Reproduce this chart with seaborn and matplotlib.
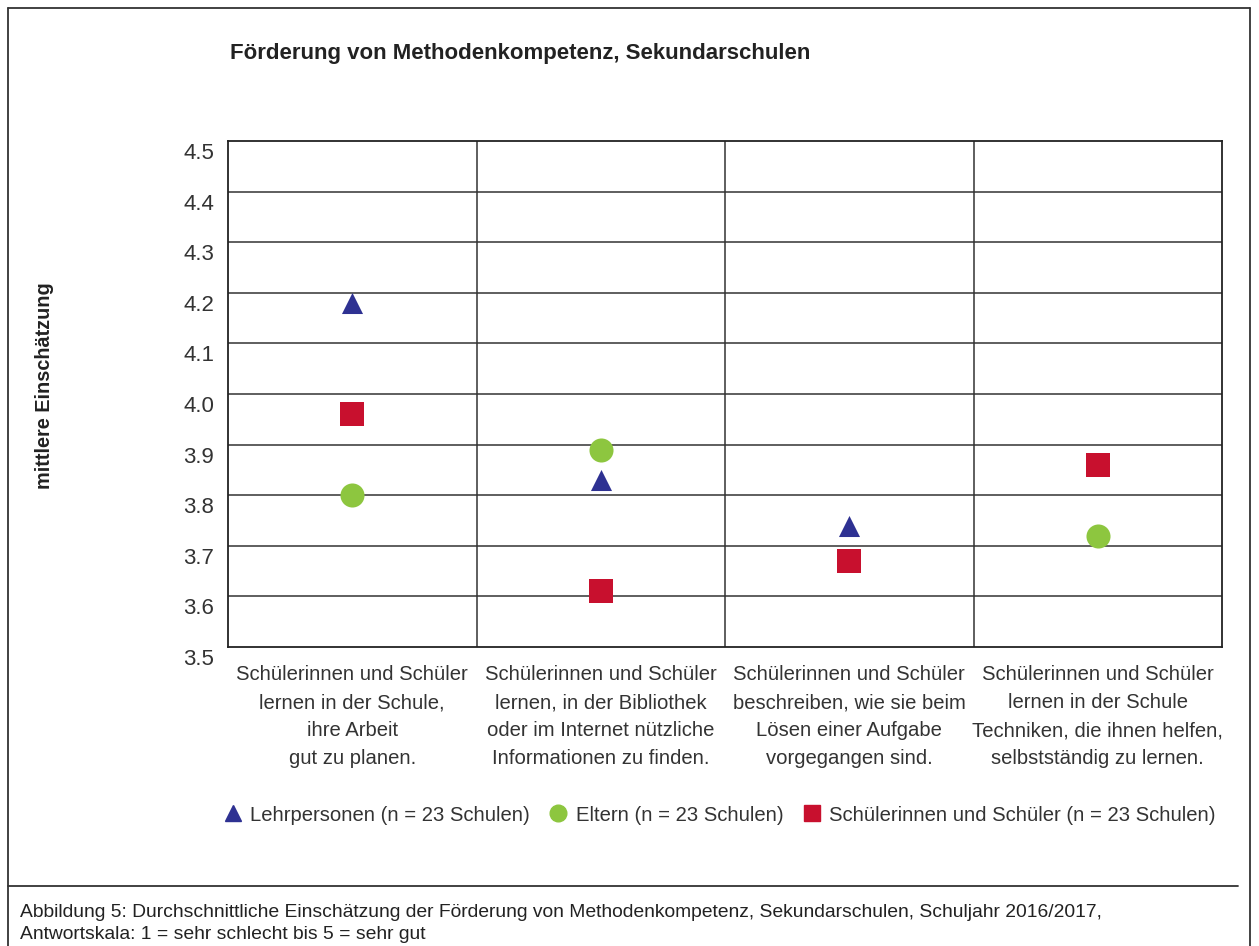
import numpy as np
import pandas as pd
import matplotlib.pyplot as plt
import matplotlib.transforms as mtransforms
import seaborn as sns
from matplotlib.lines import Line2D

# data
categories = [
    "Schülerinnen und Schüler\nlernen in der Schule,\nihre Arbeit\ngut zu planen.",
    "Schülerinnen und Schüler\nlernen, in der Bibliothek\noder im Internet nützliche\nInformationen zu finden.",
    "Schülerinnen und Schüler\nbeschreiben, wie sie beim\nLösen einer Aufgabe\nvorgegangen sind.",
    "Schülerinnen und Schüler\nlernen in der Schule\nTechniken, die ihnen helfen,\nselbstständig zu lernen.",
]
lehrpersonen = [4.18, 3.83, 3.74, np.nan]
eltern = [3.80, 3.89, np.nan, 3.72]
schueler = [3.96, 3.61, 3.67, 3.86]

series_names = ["Lehrpersonen (n = 23 Schulen)",
                "Eltern (n = 23 Schulen)",
                "Schülerinnen und Schüler (n = 23 Schulen)"]
colors = ["#2e3192", "#8dc63f", "#c8102e"]
markers = ["^", "o", "s"]
sizes = [230, 300, 290]

yticks = [3.5, 3.6, 3.7, 3.8, 3.9, 4.0, 4.1, 4.2, 4.3, 4.4, 4.5]

sns.set_style("white")
plt.rcParams['font.family'] = ['Liberation Sans', 'DejaVu Sans']

fig = plt.figure(figsize=(12.59, 9.46), dpi=100)
ax = fig.add_axes([228 / 1259, 1 - 647 / 946, 994 / 1259, 506 / 946])

xpos = np.arange(len(categories))
for vals, name, col, mk, sz in zip([lehrpersonen, eltern, schueler], series_names, colors, markers, sizes):
    df = pd.DataFrame({'x': xpos, 'y': vals}).dropna()
    sns.scatterplot(data=df, x='x', y='y', ax=ax, color=col, marker=mk, s=sz,
                    linewidth=0, zorder=3, legend=False)

# grid
for yv in yticks[1:-1]:
    ax.axhline(yv, color='#333333', lw=1.1, zorder=1)
for xv in [0.5, 1.5, 2.5]:
    ax.axvline(xv, color='#333333', lw=1.1, zorder=1)

ax.set_xlim(-0.5, 3.5)
ax.set_ylim(3.5, 4.5)
ax.set_yticks(yticks)
ax.set_yticklabels([f"{v:.1f}" for v in yticks], fontsize=16, color='#333333')
ax.set_xticks(xpos)
ax.set_xticklabels(categories, fontsize=14.6, color='#333333', linespacing=1.6)
ax.tick_params(axis='both', length=0)
ax.tick_params(axis='y', pad=10)
ax.tick_params(axis='x', pad=13)
# y tick labels sit a little below their grid line in the reference
shift = mtransforms.ScaledTranslation(0, -10 / 100, fig.dpi_scale_trans)
for lab in ax.get_yticklabels():
    lab.set_transform(lab.get_transform() + shift)
ax.set_xlabel("")
ax.set_ylabel("")
for sp in ax.spines.values():
    sp.set_color('#222222')
    sp.set_linewidth(1.3)

fig.text(45 / 1259, 1 - 386 / 946, "mittlere Einschätzung", rotation=90,
         fontsize=14.3, fontweight='bold', ha='center', va='center', color='#222222')
fig.text(230 / 1259, 1 - 53 / 946, "Förderung von Methodenkompetenz, Sekundarschulen",
         fontsize=16, fontweight='bold', ha='left', va='center', color='#222222')

handles = [Line2D([], [], linestyle='none', marker=mk, color=col, markersize=ms)
           for mk, col, ms in zip(markers, colors, [12, 12, 11])]
fig.legend(handles, series_names, loc='center', bbox_to_anchor=(719 / 1259, 1 - 815 / 946),
           ncol=3, frameon=False, fontsize=14.6, handletextpad=0.35, columnspacing=0.9,
           handlelength=1.0, labelcolor='#333333')

# outer frame and footer
frame_kw = dict(color='#333333', lw=1.3, transform=fig.transFigure)
fig.add_artist(Line2D([8 / 1259, 1250 / 1259], [1 - 8 / 946, 1 - 8 / 946], **frame_kw))
fig.add_artist(Line2D([8 / 1259, 8 / 1259], [0, 1 - 8 / 946], **frame_kw))
fig.add_artist(Line2D([1250 / 1259, 1250 / 1259], [0, 1 - 8 / 946], **frame_kw))
fig.add_artist(Line2D([8 / 1259, 1238 / 1259], [1 - 886 / 946, 1 - 886 / 946], **frame_kw))

fig.text(20 / 1259, 1 - 912 / 946,
         "Abbildung 5: Durchschnittliche Einschätzung der Förderung von Methodenkompetenz, Sekundarschulen, Schuljahr 2016/2017,",
         fontsize=13.9, ha='left', va='center', color='#222222')
fig.text(20 / 1259, 1 - 934 / 946, "Antwortskala: 1 = sehr schlecht bis 5 = sehr gut",
         fontsize=13.9, ha='left', va='center', color='#222222')

fig.savefig("out.png", dpi=100)
